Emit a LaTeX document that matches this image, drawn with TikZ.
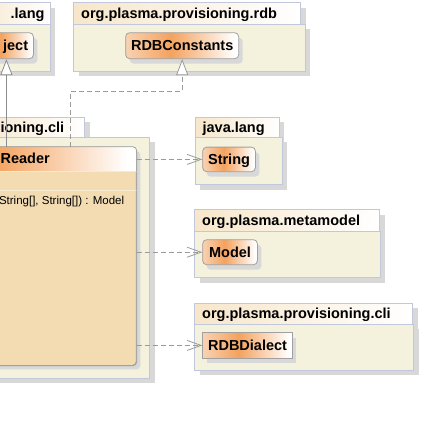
\documentclass[tikz,border=0pt]{standalone}
\usepackage{fontspec}
\setmainfont{Liberation Sans}
\usetikzlibrary{arrows.meta,shadows,calc}
\definecolor{pkgbody}{RGB}{244,242,220}
\definecolor{tabL}{RGB}{247,230,202}
\definecolor{pkgborder}{RGB}{194,200,220}
\definecolor{shadowc}{RGB}{216,216,216}
\definecolor{clsborder}{RGB}{160,160,160}
\definecolor{clsL}{RGB}{249,210,178}
\definecolor{clsM}{RGB}{244,162,94}
\definecolor{readerbody}{RGB}{243,220,178}
\definecolor{sepc}{RGB}{248,234,210}
\definecolor{linec}{RGB}{140,140,140}
\definecolor{dashc}{RGB}{155,155,155}
\pgfdeclarehorizontalshading{clsshade}{100bp}{color(0bp)=(clsL); color(25bp)=(clsL); color(45bp)=(clsM); color(73bp)=(white); color(100bp)=(white)}
\tikzset{
  pkgshadow/.style={drop shadow={shadow xshift=5pt, shadow yshift=-5pt, fill=shadowc, opacity=1}},
  clsshadow/.style={drop shadow={shadow xshift=4pt, shadow yshift=-5pt, fill=shadowc, opacity=1}},
  pkgtab/.style={draw=pkgborder, line width=0.8pt, left color=tabL, right color=white, minimum height=21.4pt, inner ysep=0pt, inner xsep=7.5pt, anchor=north west, align=left, text height=10pt, text depth=0pt, font=\fontsize{14.5}{16}\selectfont\bfseries, pkgshadow},
  pkgbox/.style={draw=pkgborder, line width=0.8pt, fill=pkgbody, inner sep=0pt, anchor=north west, pkgshadow},
  cls/.style={draw=clsborder, line width=0.8pt, rounded corners=4pt, shade, shading=clsshade, inner xsep=2pt, inner ysep=0pt, anchor=north west, text height=10pt, text depth=0pt, font=\fontsize{14.5}{16}\selectfont\bfseries, clsshadow},
  boldtxt/.style={inner sep=0pt, font=\fontsize{14.5}{16}\selectfont\bfseries},
  regtxt/.style={inner sep=0pt, font=\fontsize{11.5}{13}\selectfont},
  gen/.style={draw=linec, line width=0.8pt, -{Triangle[open, length=16pt, width=12pt, fill=white]}},
  real/.style={draw=dashc, line width=0.8pt, dash pattern=on 5pt off 3pt, -{Triangle[open, length=16pt, width=12pt, fill=white]}},
  dep/.style={draw=dashc, line width=0.8pt, dash pattern=on 5pt off 3pt, -{Straight Barb[length=14pt, width=10pt]}}
}
\begin{document}
\begin{tikzpicture}[x=1pt, y=-1pt]
\clip (0,0) rectangle (421,421);
\fill[white] (0,0) rectangle (421,421);
% package java.lang (top left)
\node[pkgtab, minimum width=80pt] (jl1tab) at (-30,2.3) {};
\node[pkgbox, minimum width=80pt, minimum height=46.7pt] (jl1body) at (-30,24) {};
\node[boldtxt, anchor=base east] (jl1lbl) at (44.7,18.3) {.lang};
% package org.plasma.provisioning.rdb
\node[pkgtab, text width=212pt] (rdbtab) at (73.3,2.3) {org.plasma.provisioning.rdb};
\node[pkgbox, minimum width=231.7pt, minimum height=46.7pt] (rdbbody) at (73.3,24) {};
% package provisioning.cli (left)
\node[pkgtab, minimum width=114.3pt] (cl1tab) at (-30,116.7) {};
\node[pkgbox, minimum width=179.3pt, minimum height=241pt] (cl1body) at (-30,137) {};
\node[boldtxt, anchor=base west] (cl1lbl) at (0.4,132.2) {ioning.cli};
% package java.lang (right)
\node[pkgtab, text width=69pt] (jl2tab) at (194.7,116.7) {java.lang};
\node[pkgbox, minimum width=87.3pt, minimum height=47.3pt] (jl2body) at (194.7,137) {};
% package org.plasma.metamodel
\node[pkgtab, text width=170pt] (mmtab) at (194.3,209.3) {org.plasma.metamodel};
\node[pkgbox, minimum width=185.7pt, minimum height=46.6pt] (mmbody) at (194.3,230.7) {};
% package org.plasma.provisioning.cli (right)
\node[pkgtab, text width=203pt] (cl2tab) at (194.3,302.7) {org.plasma.provisioning.cli};
\node[pkgbox, minimum width=219pt, minimum height=46pt] (cl2body) at (194.3,324) {};
% classes
\node[cls, minimum width=54pt, minimum height=26pt] (object) at (-21,32.3) {};
\node[boldtxt, anchor=base east] (objlbl) at (28.3,50.7) {ject};
\node[cls, minimum width=113pt, minimum height=26pt] (rdbconst) at (125.3,32.3) {RDBConstants};
\node[cls, minimum width=52.7pt, minimum height=24.6pt] (string) at (202.3,146.7) {String};
\node[cls, minimum width=54.7pt, minimum height=25pt] (model) at (202.3,239.3) {Model};
\node[cls, rounded corners=0pt, minimum width=89.7pt, minimum height=25.4pt] (dialect) at (202.3,332.3) {RDBDialect};
% Reader class
\node[draw=clsborder, line width=0.8pt, rounded corners=4pt, fill=readerbody, minimum width=237pt, minimum height=218.3pt, inner sep=0pt, anchor=north east, drop shadow={shadow xshift=4pt, shadow yshift=-4pt, fill=shadowc, opacity=1}] (reader) at (136.7,146.7) {};
\begin{scope}
\clip[rounded corners=4pt] (reader.south west) rectangle (reader.north east);
\shade[shading=clsshade] (reader.north west) rectangle ([yshift=-24.3pt]reader.north east);
\end{scope}
\draw[sepc, line width=0.8pt] ([yshift=-24.3pt]reader.north west) -- ([yshift=-24.3pt]reader.north east);
\draw[sepc, line width=0.8pt] ([yshift=-43.6pt]reader.north west) -- ([yshift=-43.6pt]reader.north east);
\draw[clsborder, line width=0.8pt, rounded corners=4pt] (reader.south west) rectangle (reader.north east);
\node[boldtxt, anchor=base west] (readerlbl) at (0.4,163.5) {Reader};
\node[regtxt, anchor=base east] (readerop) at (124.3,204.7) {String[], String[]) : Model};
% connectors
\coordinate (rbend) at (70.7,91.3);
\draw[gen] (object.south |- reader.north) -- (object.south);
\draw[real] (rbend |- reader.north) -- (rbend) -- (rbend -| rdbconst.south) -- (rdbconst.south);
\draw[dep] (reader.east |- string.west) -- (string.west);
\draw[dep] (reader.east |- model.west) -- (model.west);
\draw[dep] (reader.east |- dialect.west) -- (dialect.west);
\end{tikzpicture}
\end{document}
